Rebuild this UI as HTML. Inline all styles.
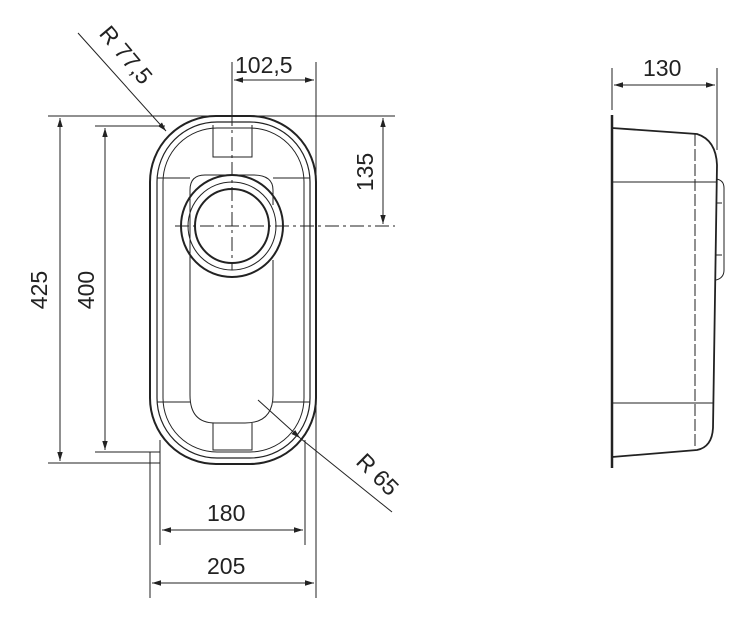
<!DOCTYPE html>
<html><head><style>body{margin:0;background:#fff}svg{display:block}text{font-family:"Liberation Sans",sans-serif;font-size:23px;fill:#222}</style></head><body>
<svg width="756" height="640" viewBox="0 0 756 640" xmlns="http://www.w3.org/2000/svg">
<defs><marker id="a" viewBox="0 0 10 10" refX="10" refY="5" markerWidth="9" markerHeight="9" orient="auto-start-reverse"><path d="M0,2 L10,5 L0,8 z" fill="#222"/></marker></defs>
<g stroke="#222" fill="none" stroke-width="1">
<rect x="150" y="116" width="166" height="348" rx="66" stroke-width="2"/>
<rect x="157" y="122" width="153" height="336" rx="60" stroke-width="1.2"/>
<rect x="163" y="128" width="141" height="324" rx="54"/>
<path d="M213,125 V157 H252 V125"/>
<path d="M190,288 V190 Q190,175 205,175 H253 Q273,175 273,190 V205"/>
<path d="M190,226 V395 Q190,423 215,423 H245 Q273,423 273,395 V260"/>
<path d="M213,423 V450 H252 V423"/>
<path d="M157,178 H190 M273,178 H310 M157,402 H190 M273,402 H310"/>
<circle cx="232" cy="226" r="51" stroke-width="2"/>
<circle cx="232" cy="226" r="44"/>
<circle cx="232" cy="226" r="37" stroke-width="2"/>
<path d="M232,62 V270 M175,226 H395" stroke-dasharray="14,4,3,4"/>
<path d="M48,116 H395 M48,463 H160 M95,126 H165 M95,452 H160"/>
<path d="M232,62 V125 M316,62 V598 M150,452 V598 M160,440 V545 M305,440 V545"/>
<path d="M60,118 V461" marker-start="url(#a)" marker-end="url(#a)"/>
<path d="M105,128 V450" marker-start="url(#a)" marker-end="url(#a)"/>
<path d="M383,118 V224" marker-start="url(#a)" marker-end="url(#a)"/>
<path d="M234,80 H314" marker-start="url(#a)" marker-end="url(#a)"/>
<path d="M162,530 H303" marker-start="url(#a)" marker-end="url(#a)"/>
<path d="M152,583 H314" marker-start="url(#a)" marker-end="url(#a)"/>
<path d="M78,33 L166,131" marker-end="url(#a)"/>
<path d="M258,400 L300,438" marker-end="url(#a)"/>
<path d="M300,438 L392,512"/>
<path d="M612,115 V468" stroke-width="2.5"/>
<path d="M612,128 L697,134 Q716,140 717,165 L713,428 Q712,447 697,450 L612,457" stroke-width="1.8"/>
<path d="M612,182 H716 M612,403 H714"/>
<path d="M695,134 V448" stroke-dasharray="12,3"/>
<path d="M716,179 Q724,180 724,188 V270 Q724,278 716,280 M716,203 H722 M716,255 H722"/>
<path d="M612,68 V110 M717,68 V150"/>
<path d="M614,85 H715" marker-start="url(#a)" marker-end="url(#a)"/>
</g>
<text x="235" y="73">102,5</text>
<text x="207" y="521">180</text>
<text x="207" y="574">205</text>
<text x="643" y="76">130</text>
<text transform="translate(47,290) rotate(-90)" text-anchor="middle">425</text>
<text transform="translate(94,290) rotate(-90)" text-anchor="middle">400</text>
<text transform="translate(373,172) rotate(-90)" text-anchor="middle">135</text>
<text transform="translate(120,60) rotate(50)" text-anchor="middle">R 77,5</text>
<text transform="translate(372,480) rotate(45)" text-anchor="middle">R 65</text>
</svg>
</body></html>
